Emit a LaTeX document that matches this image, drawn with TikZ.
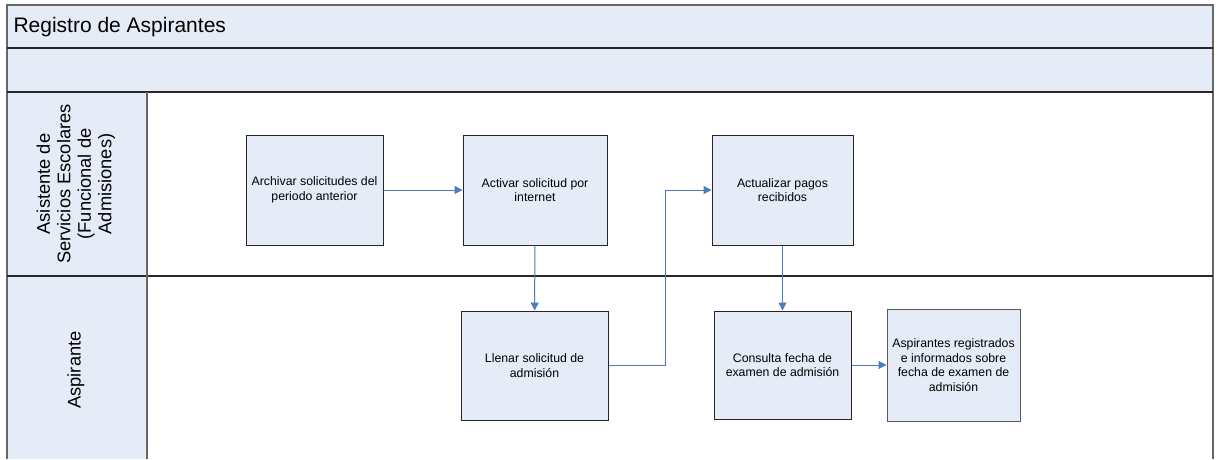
\documentclass[tikz,border=0pt]{standalone}
\usepackage{fontspec}
\setmainfont{Liberation Sans}
\usetikzlibrary{arrows.meta}
\definecolor{lanefill}{RGB}{230,236,247}
\definecolor{flow}{RGB}{74,126,187}
\definecolor{frame}{RGB}{40,40,40}
\tikzset{
  box/.style={draw=black!85, line width=1pt, fill=lanefill, align=center, inner sep=2pt,
    font=\fontsize{12.3}{14.8}\selectfont},
  endbox/.style={box, draw=black!65},
  flowline/.style={draw=flow, line width=1pt, -{Triangle[length=8pt,width=8pt]}},
  laneline/.style={draw=frame, line width=1.3pt},
  lanelabel/.style={rotate=90, align=center, font=\fontsize{18.3}{20.5}\selectfont}
}
\begin{document}
\begin{tikzpicture}[x=1pt,y=-1pt]
\useasboundingbox (0,0) rectangle (1218,459);
% bands
\fill[lanefill] (7,5) rectangle (1213,92);
\fill[lanefill] (7,92) rectangle (147,459);
\draw[laneline, draw=black!60] (7,459) -- (7,5) -- (1213,5) -- (1213,459);
\draw[laneline] (7,48) -- (1213,48);
\draw[laneline] (7,92) -- (1213,92);
\draw[laneline] (7,276) -- (1213,276);
\draw[laneline, draw=black!60] (147,92) -- (147,459);
\node[anchor=west, font=\fontsize{21}{24}\selectfont] (title) at (10,27) {Registro de Aspirantes};
\node[lanelabel] (lane1) at (76,184) {Asistente de\\Servicios Escolares\\(Funcional de\\Admisiones)};
\node[lanelabel] (lane2) at (76,370) {Aspirante};
% boxes
\node[box, minimum width=137pt, minimum height=110pt] (b1) at (314.5,190) {Archivar solicitudes del\\periodo anterior};
\node[box, minimum width=144pt, minimum height=110pt] (b2) at (535,190) {Activar solicitud por\\internet};
\node[box, minimum width=141pt, minimum height=110pt] (b3) at (782.5,190) {Actualizar pagos\\recibidos};
\node[box, minimum width=147pt, minimum height=109pt] (b4) at (534.5,365.5) {Llenar solicitud de\\admisión};
\node[box, minimum width=137pt, minimum height=108pt] (b5) at (782.5,365) {Consulta fecha de\\examen de admisión};
\node[endbox, minimum width=133pt, minimum height=112pt] (b6) at (953.5,365) {Aspirantes registrados\\e informados sobre\\fecha de examen de\\admisión};
% connectors
\draw[flowline] (b1) -- (b2);
\draw[flowline] (b2) -- (b4);
\draw[flowline] (b4.east) -- ++(57,0) |- (b3.west);
\draw[flowline] (b3) -- (b5);
\draw[flowline] (b5) -- (b6);
\end{tikzpicture}
\end{document}
